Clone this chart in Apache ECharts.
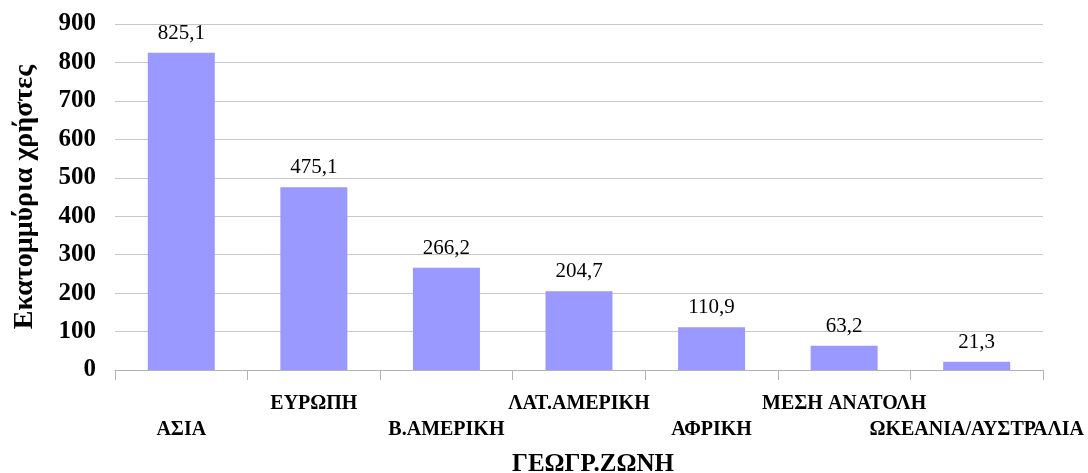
<!DOCTYPE html>
<html>
<head>
<meta charset="utf-8">
<script src="https://cdn.jsdelivr.net/npm/echarts@6/dist/echarts.min.js"></script>
<style>
  html, body { margin: 0; padding: 0; background: #fff; }
  #main { width: 1088px; height: 473px; }
</style>
</head>
<body>
<div id="main"></div>
<script>
var zones = ['ΑΣΙΑ', 'ΕΥΡΩΠΗ', 'Β.ΑΜΕΡΙΚΗ', 'ΛΑΤ.ΑΜΕΡΙΚΗ', 'ΑΦΡΙΚΗ', 'ΜΕΣΗ ΑΝΑΤΟΛΗ', 'ΩΚΕΑΝΙΑ/ΑΥΣΤΡΑΛΙΑ'];
var users = [825.1, 475.1, 266.2, 204.7, 110.9, 63.2, 21.3];

var font = '"Liberation Serif", "DejaVu Serif", serif';

var myChart = echarts.init(document.getElementById('main'));
var option = {
    animation: false,
    grid: { left: 115, right: 45, top: 24, bottom: 103, outerBoundsMode: 'none', containLabel: false },
    xAxis: {
        type: 'category',
        data: zones,
        name: 'ΓΕΩΓΡ.ΖΩΝΗ',
        nameLocation: 'middle',
        nameGap: 82,
        nameTextStyle: { fontFamily: font, fontWeight: 'bold', fontSize: 25, color: '#000', padding: [0, 0, 0, 28] },
        axisLine: { lineStyle: { color: '#b3b3b3', width: 1 } },
        axisTick: { show: true, length: 10, lineStyle: { color: '#b3b3b3' } },
        axisLabel: {
            interval: 0,
            margin: 21,
            fontFamily: font,
            fontWeight: 'bold',
            fontSize: 20,
            color: '#000',
            lineHeight: 26,
            // alternate rows like the original
            formatter: function (v, i) {
                return i % 2 === 0 ? '\n' + v : v;
            }
        }
    },
    yAxis: {
        type: 'value',
        min: 0,
        max: 900,
        interval: 100,
        name: 'Εκατομμύρια χρήστες',
        nameLocation: 'middle',
        nameGap: 76,
        nameRotate: 90,
        nameTextStyle: { fontFamily: font, fontWeight: 'bold', fontSize: 28, color: '#000' },
        axisLine: { show: false },
        axisTick: { show: false },
        splitLine: { lineStyle: { color: '#c8c8c8', width: 1 } },
        axisLabel: {
            margin: 19,
            fontFamily: font,
            fontWeight: 'bold',
            fontSize: 25,
            color: '#000'
        }
    },
    series: [
        {
            type: 'bar',
            data: users,
            barWidth: 67,
            itemStyle: { color: '#9999ff' },
            label: {
                show: true,
                position: 'top',
                distance: 9,
                fontFamily: font,
                fontSize: 21,
                color: '#000',
                formatter: function (p) {
                    return p.value.toFixed(1).replace('.', ',');
                }
            }
        }
    ]
};
myChart.setOption(option);
</script>
</body>
</html>
